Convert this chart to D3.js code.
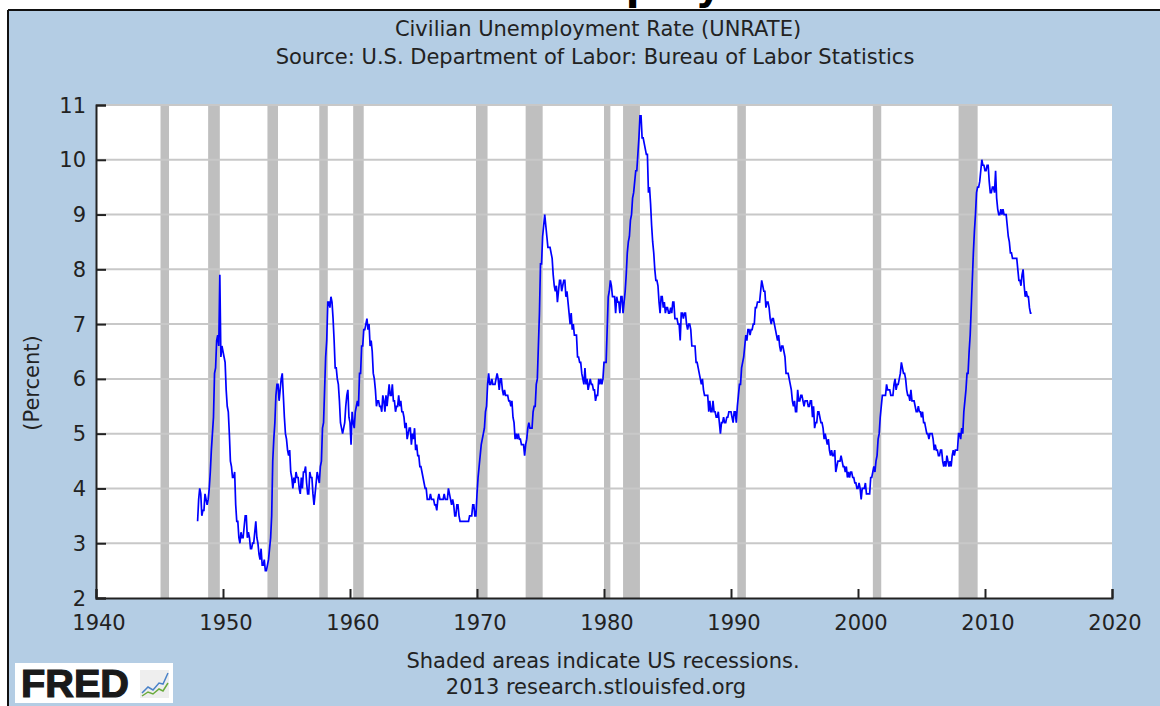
<!DOCTYPE html>
<html>
<head>
<meta charset="utf-8">
<script src="https://cdn.jsdelivr.net/npm/d3@7"></script>
<style>
body { margin: 0; background: #fff; }
text { font-family: "DejaVu Sans", Verdana, sans-serif; fill: #222; }
</style>
</head>
<body>
<script>
var width = 1160,
    height = 706;

// monthly UNRATE, one row per year starting 1948
var startYear = 1948;
var rates = [
  [3.4, 3.8, 4.0, 3.9, 3.5, 3.6, 3.6, 3.9, 3.8, 3.7, 3.8, 4.0],
  [4.3, 4.7, 5.0, 5.3, 6.1, 6.2, 6.7, 6.8, 6.6, 7.9, 6.4, 6.6],
  [6.5, 6.4, 6.3, 5.8, 5.5, 5.4, 5.0, 4.5, 4.4, 4.2, 4.2, 4.3],
  [3.7, 3.4, 3.4, 3.1, 3.0, 3.2, 3.1, 3.1, 3.3, 3.5, 3.5, 3.1],
  [3.2, 3.1, 2.9, 2.9, 3.0, 3.0, 3.2, 3.4, 3.1, 3.0, 2.8, 2.7],
  [2.9, 2.6, 2.6, 2.7, 2.5, 2.5, 2.6, 2.7, 2.9, 3.1, 3.5, 4.5],
  [4.9, 5.2, 5.7, 5.9, 5.9, 5.6, 5.8, 6.0, 6.1, 5.7, 5.3, 5.0],
  [4.9, 4.7, 4.6, 4.7, 4.3, 4.2, 4.0, 4.2, 4.1, 4.3, 4.2, 4.2],
  [4.0, 3.9, 4.2, 4.0, 4.3, 4.3, 4.4, 4.1, 3.9, 3.9, 4.3, 4.2],
  [4.2, 3.9, 3.7, 3.9, 4.1, 4.3, 4.2, 4.1, 4.4, 4.5, 5.1, 5.2],
  [5.8, 6.4, 6.7, 7.4, 7.4, 7.3, 7.5, 7.4, 7.1, 6.7, 6.2, 6.2],
  [6.0, 5.9, 5.6, 5.2, 5.1, 5.0, 5.1, 5.2, 5.5, 5.7, 5.8, 5.3],
  [5.2, 4.8, 5.4, 5.2, 5.1, 5.4, 5.5, 5.6, 5.5, 6.1, 6.1, 6.6],
  [6.6, 6.9, 6.9, 7.0, 7.1, 6.9, 7.0, 6.6, 6.7, 6.5, 6.1, 6.0],
  [5.8, 5.5, 5.6, 5.6, 5.5, 5.5, 5.4, 5.7, 5.6, 5.4, 5.7, 5.5],
  [5.7, 5.9, 5.7, 5.7, 5.9, 5.6, 5.6, 5.4, 5.5, 5.5, 5.7, 5.5],
  [5.6, 5.4, 5.4, 5.3, 5.1, 5.2, 4.9, 5.0, 5.1, 5.1, 4.8, 5.0],
  [4.9, 5.1, 4.7, 4.8, 4.6, 4.6, 4.4, 4.4, 4.3, 4.2, 4.1, 4.0],
  [4.0, 3.8, 3.8, 3.8, 3.9, 3.8, 3.8, 3.8, 3.7, 3.7, 3.6, 3.8],
  [3.9, 3.8, 3.8, 3.8, 3.8, 3.9, 3.8, 3.8, 3.8, 4.0, 3.9, 3.8],
  [3.7, 3.8, 3.7, 3.5, 3.5, 3.7, 3.7, 3.5, 3.4, 3.4, 3.4, 3.4],
  [3.4, 3.4, 3.4, 3.4, 3.4, 3.5, 3.5, 3.5, 3.7, 3.7, 3.5, 3.5],
  [3.9, 4.2, 4.4, 4.6, 4.8, 4.9, 5.0, 5.1, 5.4, 5.5, 5.9, 6.1],
  [5.9, 5.9, 6.0, 5.9, 5.9, 5.9, 6.0, 6.1, 6.0, 5.8, 6.0, 6.0],
  [5.8, 5.7, 5.8, 5.7, 5.7, 5.7, 5.6, 5.6, 5.5, 5.6, 5.3, 5.2],
  [4.9, 5.0, 4.9, 5.0, 4.9, 4.9, 4.8, 4.8, 4.8, 4.6, 4.8, 4.9],
  [5.1, 5.2, 5.1, 5.1, 5.1, 5.4, 5.5, 5.5, 5.9, 6.0, 6.6, 7.2],
  [8.1, 8.1, 8.6, 8.8, 9.0, 8.8, 8.6, 8.4, 8.4, 8.4, 8.3, 8.2],
  [7.9, 7.7, 7.6, 7.7, 7.4, 7.6, 7.8, 7.8, 7.6, 7.7, 7.8, 7.8],
  [7.5, 7.6, 7.4, 7.2, 7.0, 7.2, 6.9, 7.0, 6.8, 6.8, 6.8, 6.4],
  [6.4, 6.3, 6.3, 6.1, 6.0, 5.9, 6.2, 5.9, 6.0, 5.8, 5.9, 6.0],
  [5.9, 5.9, 5.8, 5.8, 5.6, 5.7, 5.7, 6.0, 5.9, 6.0, 5.9, 6.0],
  [6.3, 6.3, 6.3, 6.9, 7.5, 7.6, 7.8, 7.7, 7.5, 7.5, 7.5, 7.2],
  [7.5, 7.4, 7.4, 7.2, 7.5, 7.5, 7.2, 7.4, 7.6, 7.9, 8.3, 8.5],
  [8.6, 8.9, 9.0, 9.3, 9.4, 9.6, 9.8, 9.8, 10.1, 10.4, 10.8, 10.8],
  [10.4, 10.4, 10.3, 10.2, 10.1, 10.1, 9.4, 9.5, 9.2, 8.8, 8.5, 8.3],
  [8.0, 7.8, 7.8, 7.7, 7.4, 7.2, 7.5, 7.5, 7.3, 7.4, 7.2, 7.3],
  [7.3, 7.2, 7.2, 7.3, 7.2, 7.4, 7.4, 7.1, 7.1, 7.1, 7.0, 7.0],
  [6.7, 7.2, 7.2, 7.1, 7.2, 7.2, 7.0, 6.9, 7.0, 7.0, 6.9, 6.6],
  [6.6, 6.6, 6.6, 6.3, 6.3, 6.2, 6.1, 6.0, 5.9, 6.0, 5.8, 5.7],
  [5.7, 5.7, 5.7, 5.4, 5.6, 5.4, 5.4, 5.6, 5.4, 5.4, 5.3, 5.3],
  [5.4, 5.2, 5.0, 5.2, 5.2, 5.3, 5.2, 5.2, 5.3, 5.3, 5.4, 5.4],
  [5.4, 5.3, 5.2, 5.4, 5.4, 5.2, 5.5, 5.7, 5.9, 5.9, 6.2, 6.3],
  [6.4, 6.6, 6.8, 6.7, 6.9, 6.9, 6.8, 6.9, 6.9, 7.0, 7.0, 7.3],
  [7.3, 7.4, 7.4, 7.4, 7.6, 7.8, 7.7, 7.6, 7.6, 7.3, 7.4, 7.4],
  [7.3, 7.1, 7.0, 7.1, 7.1, 7.0, 6.9, 6.8, 6.7, 6.8, 6.6, 6.5],
  [6.6, 6.6, 6.5, 6.4, 6.1, 6.1, 6.1, 6.0, 5.9, 5.8, 5.6, 5.5],
  [5.6, 5.4, 5.4, 5.8, 5.6, 5.6, 5.7, 5.7, 5.6, 5.5, 5.6, 5.6],
  [5.6, 5.5, 5.5, 5.6, 5.6, 5.3, 5.5, 5.1, 5.2, 5.2, 5.4, 5.4],
  [5.3, 5.2, 5.2, 5.1, 4.9, 5.0, 4.9, 4.8, 4.9, 4.7, 4.6, 4.7],
  [4.6, 4.6, 4.7, 4.3, 4.4, 4.5, 4.5, 4.5, 4.6, 4.5, 4.4, 4.4],
  [4.3, 4.4, 4.2, 4.3, 4.2, 4.3, 4.3, 4.2, 4.2, 4.1, 4.1, 4.0],
  [4.0, 4.1, 4.0, 3.8, 4.0, 4.0, 4.0, 4.1, 3.9, 3.9, 3.9, 3.9],
  [4.2, 4.2, 4.3, 4.4, 4.3, 4.5, 4.6, 4.9, 5.0, 5.3, 5.5, 5.7],
  [5.7, 5.7, 5.7, 5.9, 5.8, 5.8, 5.8, 5.7, 5.7, 5.7, 5.9, 6.0],
  [5.8, 5.9, 5.9, 6.0, 6.1, 6.3, 6.2, 6.1, 6.1, 6.0, 5.8, 5.7],
  [5.7, 5.6, 5.8, 5.6, 5.6, 5.6, 5.5, 5.4, 5.4, 5.5, 5.4, 5.4],
  [5.3, 5.4, 5.2, 5.2, 5.1, 5.0, 5.0, 4.9, 5.0, 5.0, 5.0, 4.9],
  [4.7, 4.8, 4.7, 4.7, 4.6, 4.6, 4.7, 4.7, 4.5, 4.4, 4.5, 4.4],
  [4.6, 4.5, 4.4, 4.5, 4.4, 4.6, 4.7, 4.6, 4.7, 4.7, 4.7, 5.0],
  [5.0, 4.9, 5.1, 5.0, 5.4, 5.6, 5.8, 6.1, 6.1, 6.5, 6.8, 7.3],
  [7.8, 8.3, 8.7, 9.0, 9.4, 9.5, 9.5, 9.6, 9.8, 10.0, 9.9, 9.9],
  [9.8, 9.8, 9.9, 9.9, 9.6, 9.4, 9.4, 9.5, 9.5, 9.4, 9.8, 9.3],
  [9.1, 9.0, 9.0, 9.1, 9.0, 9.1, 9.0, 9.0, 9.0, 8.8, 8.6, 8.5],
  [8.3, 8.3, 8.2, 8.2, 8.2, 8.2, 8.2, 8.0, 7.8, 7.8, 7.7, 7.9],
  [8.0, 7.7, 7.5, 7.6, 7.5, 7.5, 7.3, 7.2, 7.2]
];

// NBER recessions, [start, end] as decimal years
var recessions = [
  [1945.08, 1945.75], [1948.83, 1949.75], [1953.5, 1954.33],
  [1957.58, 1958.25], [1960.25, 1961.08], [1969.92, 1970.83],
  [1973.83, 1975.17], [1980.0, 1980.5], [1981.5, 1982.83],
  [1990.5, 1991.17], [2001.17, 2001.83], [2007.92, 2009.42]
];

var xTicks = [1940, 1950, 1960, 1970, 1980, 1990, 2000, 2010, 2020];
var yTicks = [2, 3, 4, 5, 6, 7, 8, 9, 10, 11];

var data = [];
rates.forEach(function(row, i) {
    row.forEach(function(v, m) {
        data.push({ t: startYear + i + m / 12, v: v });
    });
});

var plotLeft = 96, plotRight = 1112, plotTop = 105, plotBottom = 598;
var fs = "21px";

var xscale = d3.scaleLinear().domain([1940, 2020]).range([plotLeft, plotRight]);
var yscale = d3.scaleLinear().domain([2, 11]).range([plotBottom, plotTop]);

var svg = d3.select("body")
  .append("svg")
    .attr("width", width)
    .attr("height", height);

// page heading, only its descenders show above the chart image
svg.append("text")
    .attr("x", 496)
    .attr("y", -1)
    .style("font-size", "40px")
    .style("font-weight", "bold")
    .style("fill", "#000")
    .text("Unemployment");

// blue panel with dark frame on left/top
svg.append("rect")
    .attr("x", 8).attr("y", 10)
    .attr("width", width - 8).attr("height", height - 10)
    .style("fill", "#b4cde4");
svg.append("line")
    .attr("x1", 8).attr("y1", 10).attr("x2", width).attr("y2", 10)
    .style("stroke", "#111").style("stroke-width", 2);
svg.append("line")
    .attr("x1", 8).attr("y1", 10).attr("x2", 8).attr("y2", height)
    .style("stroke", "#111").style("stroke-width", 2);

svg.append("text")
    .attr("x", 598).attr("y", 36)
    .attr("text-anchor", "middle")
    .style("font-size", fs)
    .text("Civilian Unemployment Rate (UNRATE)");
svg.append("text")
    .attr("x", 595).attr("y", 64)
    .attr("text-anchor", "middle")
    .style("font-size", fs)
    .text("Source: U.S. Department of Labor: Bureau of Labor Statistics");

// plot area
svg.append("rect")
    .attr("x", plotLeft).attr("y", plotTop)
    .attr("width", plotRight - plotLeft).attr("height", plotBottom - plotTop)
    .style("fill", "#fff");

svg.append("g")
    .attr("class", "recessions")
    .selectAll("rect")
    .data(recessions).enter()
    .append("rect")
        .attr("x", function(d) { return xscale(d[0]); })
        .attr("y", plotTop)
        .attr("width", function(d) { return xscale(d[1]) - xscale(d[0]); })
        .attr("height", plotBottom - plotTop)
        .style("fill", "#bfbfbf");

svg.append("g")
    .attr("class", "grid")
    .selectAll("line")
    .data(yTicks.slice(1)).enter()
    .append("line")
        .attr("x1", plotLeft).attr("x2", plotRight)
        .attr("y1", function(d) { return yscale(d); })
        .attr("y2", function(d) { return yscale(d); })
        .style("stroke", "#c8c8c8")
        .style("stroke-width", 2);

var line = d3.line()
    .x(function(d) { return xscale(d.t); })
    .y(function(d) { return yscale(d.v); });

svg.append("path")
    .datum(data)
    .attr("d", line)
    .style("fill", "none")
    .style("stroke", "#0000ff")
    .style("stroke-width", 1.7);

// axes
var yAxis = svg.append("g")
    .attr("transform", "translate(" + plotLeft + ",0)")
    .call(d3.axisRight(yscale).tickValues(yTicks).tickSize(10).tickFormat(""));
var xAxis = svg.append("g")
    .attr("transform", "translate(0," + plotBottom + ")")
    .call(d3.axisTop(xscale).tickValues(xTicks).tickSize(9).tickFormat(""));
[yAxis, xAxis].forEach(function(a) {
    a.select(".domain").style("stroke", "#222").style("stroke-width", 2);
    a.selectAll(".tick line").style("stroke", "#222").style("stroke-width", 2);
});

svg.append("g")
    .selectAll("text")
    .data(yTicks).enter()
    .append("text")
        .attr("x", 86)
        .attr("y", function(d) { return yscale(d) + 7.5; })
        .attr("text-anchor", "end")
        .style("font-size", fs)
        .text(function(d) { return d; });

svg.append("g")
    .selectAll("text")
    .data(xTicks).enter()
    .append("text")
        .attr("x", function(d) { return xscale(d) + 3; })
        .attr("y", 630)
        .attr("text-anchor", "middle")
        .style("font-size", fs)
        .text(function(d) { return d; });

svg.append("text")
    .attr("transform", "translate(39,383) rotate(-90)")
    .attr("text-anchor", "middle")
    .style("font-size", fs)
    .text("(Percent)");

svg.append("text")
    .attr("x", 603).attr("y", 668)
    .attr("text-anchor", "middle")
    .style("font-size", fs)
    .text("Shaded areas indicate US recessions.");
svg.append("text")
    .attr("x", 596).attr("y", 694)
    .attr("text-anchor", "middle")
    .style("font-size", fs)
    .text("2013 research.stlouisfed.org");

// FRED logo
var logo = svg.append("g").attr("transform", "translate(15,663)");
logo.append("rect")
    .attr("width", 158).attr("height", 40)
    .style("fill", "#fff");
logo.append("text")
    .attr("x", 6).attr("y", 34)
    .attr("textLength", 108)
    .attr("lengthAdjust", "spacingAndGlyphs")
    .style("font-family", "'Liberation Sans', Arial, sans-serif")
    .style("font-size", "38px")
    .style("font-weight", "bold")
    .style("fill", "#1a1a1a")
    .style("stroke", "#1a1a1a")
    .style("stroke-width", 1.2)
    .text("FRED");
logo.append("rect")
    .attr("x", 125).attr("y", 7)
    .attr("width", 29).attr("height", 28)
    .style("fill", "#eeeeee");
logo.append("polyline")
    .attr("points", "127,30 133,24 138,27 144,20 148,21 153,10")
    .style("fill", "none").style("stroke", "#4a82c8").style("stroke-width", 1.5);
logo.append("polyline")
    .attr("points", "127,33 133,29 138,31 144,26 148,28 153,20")
    .style("fill", "none").style("stroke", "#6aab3c").style("stroke-width", 1.5);
</script>
</body>
</html>
